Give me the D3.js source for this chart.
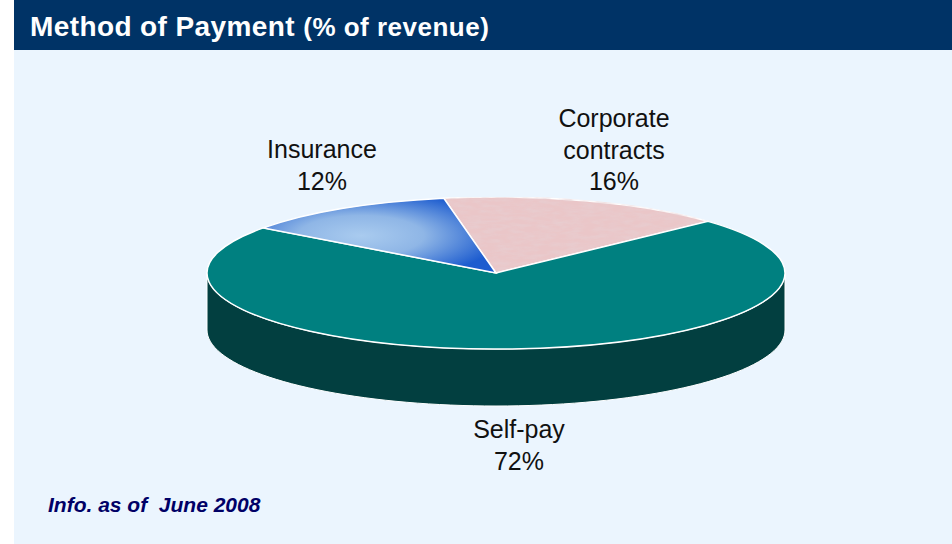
<!DOCTYPE html>
<html>
<head>
<meta charset="utf-8">
<script src="https://cdn.jsdelivr.net/npm/d3@7"></script>
<style>
  body { margin: 0; background: #ffffff; }
  svg { display: block; }
</style>
</head>
<body>
<div id="chart"></div>
<script>
// slice data, in drawing order (clockwise from the top)
var categories = ["Corporate contracts", "Self-pay", "Insurance"];
var values = [16, 72, 12];
var labelLines = [["Corporate", "contracts", "16%"], ["Self-pay", "72%"], ["Insurance", "12%"]];

var width = 952, height = 544;
var cx = 496, cy = 273, rx = 289, ry = 76, depth = 57;

var svg = d3.select("#chart").append("svg")
    .attr("width", width)
    .attr("height", height);

var defs = svg.append("defs");

// blue glow for insurance
var grad = defs.append("radialGradient")
    .attr("id", "insGrad")
    .attr("cx", "0.42").attr("cy", "0.5").attr("r", "0.6");
grad.append("stop").attr("offset", "0%").attr("stop-color", "#a9cbef");
grad.append("stop").attr("offset", "45%").attr("stop-color", "#8fb6e6");
grad.append("stop").attr("offset", "100%").attr("stop-color", "#1d5ccf");

// mottled pink for corporate contracts
var filt = defs.append("filter").attr("id", "marble")
    .attr("x", 0).attr("y", 0).attr("width", 1).attr("height", 1);
filt.append("feTurbulence")
    .attr("type", "fractalNoise")
    .attr("baseFrequency", "0.07")
    .attr("numOctaves", 3)
    .attr("seed", 4)
    .attr("result", "noise");
filt.append("feColorMatrix")
    .attr("in", "noise")
    .attr("type", "matrix")
    .attr("values", "0 0 0 0 0.80  0 0 0 0 0.62  0 0 0 0 0.64  0 0 0 1.4 -0.45")
    .attr("result", "spots");
filt.append("feComposite").attr("in", "spots").attr("in2", "SourceGraphic").attr("operator", "in").attr("result", "clipped");
filt.append("feMerge").call(function (m) {
  m.append("feMergeNode").attr("in", "SourceGraphic");
  m.append("feMergeNode").attr("in", "clipped");
});

var topColors = { "Corporate contracts": "#eac6c8", "Self-pay": "#008080", "Insurance": "url(#insGrad)" };
var sideColors = { "Corporate contracts": "#a88a8c", "Self-pay": "#023f40", "Insurance": "#163f8a" };

// white left strip, title bar, light body
svg.append("rect").attr("x", 14).attr("y", 50).attr("width", width - 14).attr("height", height - 50)
    .attr("fill", "#ebf5fe");
svg.append("rect").attr("x", 14).attr("y", 0).attr("width", width - 14).attr("height", 50)
    .attr("fill", "#003366");

var title = svg.append("text")
    .attr("x", 30).attr("y", 36)
    .attr("fill", "#ffffff")
    .style("font-family", "'Liberation Sans', Arial, sans-serif")
    .style("font-weight", "bold");
title.append("tspan").style("font-size", "28px").style("letter-spacing", "0.4px").text("Method of Payment ");
title.append("tspan").style("font-size", "26px").style("letter-spacing", "0.5px").text("(% of revenue)");

var pie = d3.pie().sort(null).value(function (d, i) { return values[i]; })
    .startAngle(-10.4 * Math.PI / 180)
    .endAngle(-10.4 * Math.PI / 180 + 2 * Math.PI);
var arcs = pie(categories);

// sides: only the front half of the ellipse shows
function sidePath(a0, a1) {
  var s = Math.max(a0, Math.PI / 2), e = Math.min(a1, 3 * Math.PI / 2);
  var s2 = Math.max(a0 - 2 * Math.PI, Math.PI / 2), e2 = Math.min(a1 - 2 * Math.PI, 3 * Math.PI / 2);
  if (e <= s) { s = s2; e = e2; }
  if (e <= s) return null;
  var n = 80, pts = [];
  for (var k = 0; k <= n; k++) {
    var a = s + (e - s) * k / n;
    pts.push([cx + rx * Math.sin(a), cy - ry * Math.cos(a)]);
  }
  for (var k = n; k >= 0; k--) {
    var a = s + (e - s) * k / n;
    pts.push([cx + rx * Math.sin(a), cy - ry * Math.cos(a) + depth]);
  }
  return d3.line()(pts) + "Z";
}

svg.append("g").selectAll("path")
    .data(arcs)
    .join("path")
    .attr("d", function (d) { return sidePath(d.startAngle, d.endAngle); })
    .attr("fill", function (d) { return sideColors[d.data]; })
    .attr("stroke", "#ffffff")
    .attr("stroke-width", 1);

var arc = d3.arc().innerRadius(0).outerRadius(rx);
svg.append("g")
    .attr("transform", "translate(" + cx + "," + cy + ") scale(1," + (ry / rx) + ")")
    .selectAll("path")
    .data(arcs)
    .join("path")
    .attr("d", arc)
    .attr("fill", function (d) { return topColors[d.data]; })
    .attr("filter", function (d) { return d.data === "Corporate contracts" ? "url(#marble)" : null; })
    .attr("stroke", "#ffffff")
    .attr("stroke-width", 1.5)
    .attr("vector-effect", "non-scaling-stroke");

// labels
var labelPos = { "Corporate contracts": [614, 127], "Self-pay": [519, 438], "Insurance": [322, 158] };
var lab = svg.append("g")
    .style("font-family", "'Liberation Sans', Arial, sans-serif")
    .style("font-size", "25px")
    .attr("fill", "#111111")
    .attr("text-anchor", "middle");
arcs.forEach(function (d, i) {
  var p = labelPos[d.data];
  var t = lab.append("text").attr("x", p[0]).attr("y", p[1]);
  labelLines[i].forEach(function (line, j) {
    t.append("tspan").attr("x", p[0]).attr("dy", j === 0 ? 0 : 31.5).text(line);
  });
});

svg.append("text")
    .attr("x", 48).attr("y", 512)
    .attr("fill", "#000066")
    .style("font-family", "'Liberation Sans', Arial, sans-serif")
    .style("font-size", "21px")
    .style("font-weight", "bold")
    .style("font-style", "italic")
    .style("white-space", "pre")
    .text("Info. as of  June 2008");
</script>
</body>
</html>
